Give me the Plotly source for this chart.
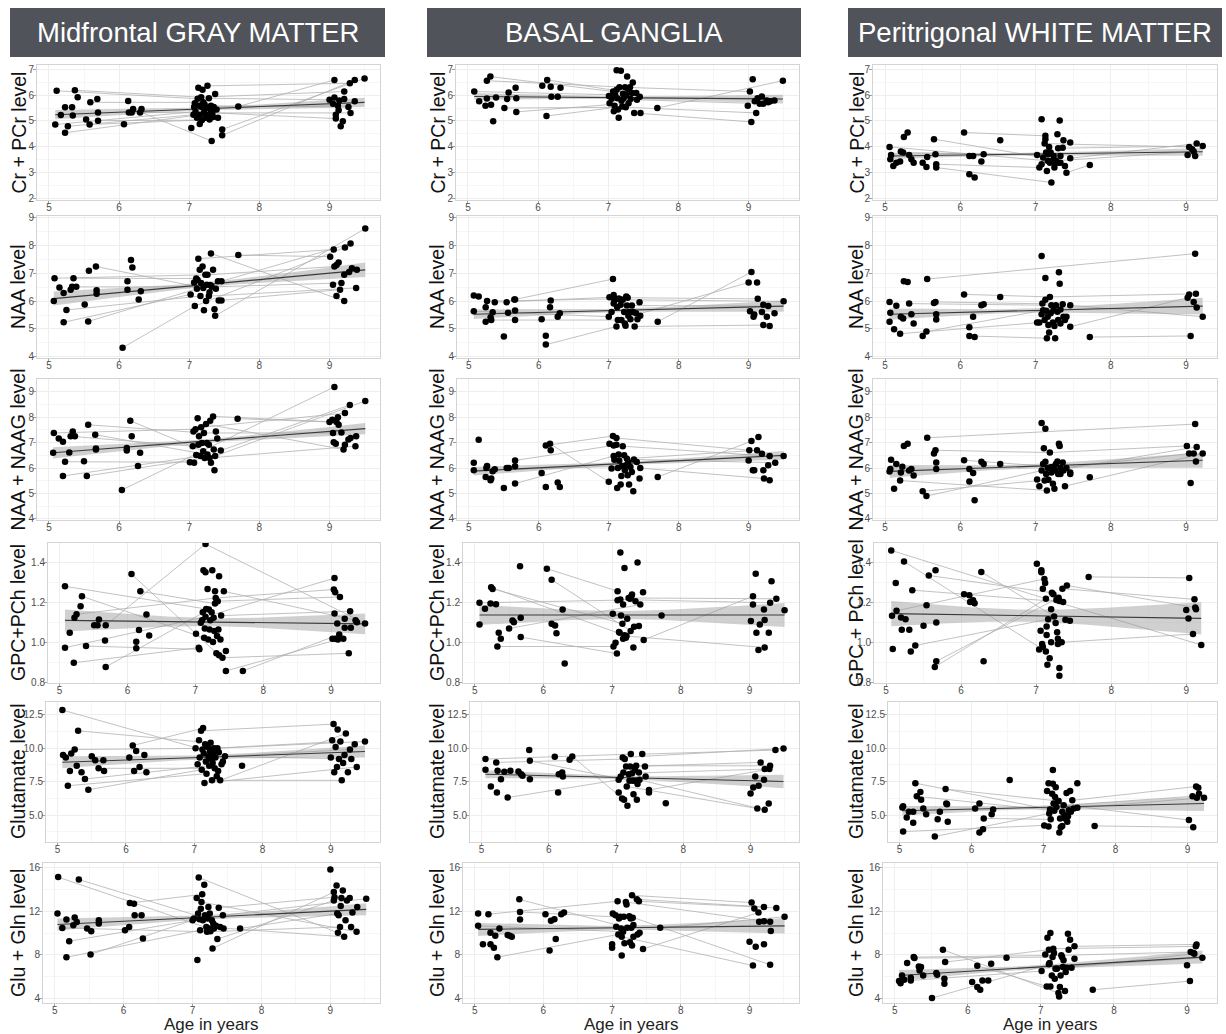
import numpy as np
import plotly.graph_objects as go

# ---------------- DATA (age in years, metabolite level) ----------------
regions = ["Midfrontal GRAY MATTER", "BASAL GANGLIA", "Peritrigonal WHITE MATTER"]
row_titles = [
    ["Cr + PCr level", "NAA level", "NAA + NAAG level", "GPC+PCh level", "Glutamate level", "Glu + Gln level"],
    ["Cr + PCr level", "NAA level", "NAA + NAAG level", "GPC+PCh level", "Glutamate level", "Glu + Gln level"],
    ["Cr + PCr level", "NAA level", "NAA + NAAG level", "GPC + PCh level", "Glutamate level", "Glu + Gln level"],
]
x_ticks = [5, 6, 7, 8, 9]
x_label = "Age in years"

# ---- Midfrontal gray matter ----
gm_cr_pts = [(5.11,6.17),(5.09,4.86),(5.17,5.23),(5.23,5.53),(5.27,4.79),(5.23,4.54),(5.33,5.53),(5.34,5.21),(5.37,6.19),(5.41,5.92),(5.53,5.05),(5.58,4.86),(5.59,5.72),(5.69,5.85),(5.70,5.33),(5.70,5.01),(6.07,4.87),(6.13,5.77),(6.14,5.33),(6.18,5.33),(6.20,5.46),(6.30,5.33),(6.32,5.46),
 (7.03,4.72),(7.06,5.24),(7.07,5.54),(7.08,5.69),(7.09,5.36),(7.11,5.12),(7.12,5.86),(7.13,6.29),(7.14,5.59),(7.15,4.88),(7.15,5.24),(7.17,5.92),(7.18,5.54),(7.18,5.03),(7.19,6.21),(7.20,5.72),(7.21,5.33),(7.22,5.64),(7.23,5.12),(7.25,5.50),(7.26,6.36),(7.27,5.24),(7.28,5.88),(7.29,5.05),(7.30,5.45),(7.31,5.59),(7.32,4.22),(7.33,5.31),(7.34,5.15),(7.35,5.54),(7.37,6.04),(7.39,5.44),(7.41,5.12),(7.47,4.67),(7.47,4.44),(7.70,5.56),
 (9.00,5.82),(9.05,5.67),(9.07,5.91),(9.07,6.59),(9.09,5.24),(9.09,5.09),(9.12,5.59),(9.13,5.41),(9.14,5.79),(9.16,4.79),(9.19,4.99),(9.21,5.85),(9.21,6.14),(9.27,5.54),(9.29,6.46),(9.30,5.31),(9.36,6.59),(9.36,5.76),(9.50,6.65)]
gm_cr_links = [[(5.11,6.17),(7.12,5.86)],[(5.09,4.86),(7.09,5.36)],[(5.27,4.79),(7.06,5.24)],[(5.23,4.54),(7.15,5.24)],[(5.37,6.19),(7.17,5.92),(9.21,6.14)],[(6.20,5.46),(7.32,4.22)],[(7.26,6.36),(9.29,6.46)],[(7.47,4.44),(9.36,6.59)],[(7.47,4.67),(9.50,6.65)],[(7.70,5.56),(9.07,6.59)],[(7.35,5.54),(9.12,5.59)],[(7.28,5.88),(9.00,5.82)],[(7.14,5.59),(9.27,5.54)],[(7.21,5.33),(9.09,5.09)],[(5.58,4.86),(7.29,5.05)],[(5.59,5.72),(7.20,5.72)],[(5.70,5.01),(7.18,5.03)],[(6.14,5.33),(7.33,5.31),(9.30,5.31)]]

gm_naa_pts = [(5.08,6.82),(5.07,6.00),(5.15,6.49),(5.21,6.29),(5.25,5.68),(5.21,5.24),(5.31,6.41),(5.33,6.51),(5.35,6.82),(5.39,6.51),(5.51,5.88),(5.56,5.27),(5.57,7.09),(5.67,7.24),(5.68,6.39),(5.68,6.26),(6.05,4.33),(6.12,6.71),(6.12,6.41),(6.17,7.47),(6.19,7.20),(6.28,6.06),(6.31,6.35),
 (7.02,6.24),(7.07,6.67),(7.08,5.82),(7.10,6.81),(7.11,6.44),(7.12,6.76),(7.13,7.52),(7.15,7.12),(7.16,6.18),(7.17,6.65),(7.19,7.24),(7.20,6.47),(7.21,5.67),(7.23,6.94),(7.24,6.00),(7.25,6.59),(7.26,6.94),(7.28,6.18),(7.29,6.32),(7.30,6.58),(7.31,7.71),(7.32,6.51),(7.34,7.12),(7.36,5.71),(7.37,5.47),(7.38,6.44),(7.41,6.71),(7.42,6.02),(7.46,6.02),(7.46,6.71),(7.70,7.65),
 (9.01,7.59),(9.05,6.59),(9.06,7.85),(9.07,7.24),(9.10,7.29),(9.10,6.18),(9.13,7.38),(9.15,6.41),(9.17,6.65),(9.21,6.00),(9.21,6.94),(9.22,7.92),(9.28,7.04),(9.30,8.06),(9.32,7.18),(9.38,6.47),(9.39,7.12),(9.51,8.60)]
gm_naa_links = [[(6.05,4.33),(7.08,5.82),(9.22,7.92)],[(5.21,5.24),(7.02,6.24)],[(5.25,5.68),(7.16,6.18)],[(5.56,5.27),(7.11,6.44)],[(5.67,7.24),(7.20,6.47)],[(5.08,6.82),(7.23,6.94)],[(7.31,7.71),(9.21,6.00)],[(7.70,7.65),(9.01,7.59)],[(7.37,5.47),(9.51,8.60)],[(7.46,6.71),(9.30,8.06)],[(7.28,6.18),(9.38,6.47)],[(7.26,6.94),(9.07,7.24)],[(7.13,7.52),(9.06,7.85)],[(7.42,6.02),(9.15,6.41)],[(5.35,6.82),(7.10,6.81)],[(5.39,6.51),(7.32,6.51),(9.17,6.65)]]

gm_naag_pts = [(5.07,7.38),(5.06,6.60),(5.14,7.16),(5.20,7.03),(5.23,6.25),(5.20,5.69),(5.29,6.61),(5.31,7.25),(5.34,7.44),(5.37,7.25),(5.50,6.27),(5.54,5.69),(5.56,7.70),(5.66,7.31),(5.67,6.77),(5.67,6.73),(6.04,5.14),(6.11,6.79),(6.11,6.69),(6.16,7.86),(6.18,7.25),(6.27,6.08),(6.30,6.60),
 (7.01,6.23),(7.05,6.86),(7.06,7.44),(7.07,6.21),(7.09,7.53),(7.10,6.51),(7.12,7.96),(7.13,6.92),(7.14,7.25),(7.16,6.47),(7.17,7.60),(7.18,6.99),(7.20,6.66),(7.21,7.38),(7.22,6.40),(7.24,7.73),(7.25,6.99),(7.26,6.53),(7.28,6.92),(7.29,6.40),(7.30,7.86),(7.31,6.21),(7.34,8.03),(7.35,6.73),(7.36,5.91),(7.37,6.47),(7.38,7.44),(7.40,7.16),(7.45,6.69),(7.69,7.94),
 (9.00,7.81),(9.04,7.90),(9.05,7.38),(9.06,7.01),(9.09,6.96),(9.07,9.19),(9.10,7.81),(9.12,8.00),(9.13,7.70),(9.17,7.40),(9.20,6.73),(9.22,8.16),(9.22,6.92),(9.27,7.12),(9.29,8.48),(9.30,7.18),(9.37,6.86),(9.38,7.25),(9.51,8.64)]
gm_naag_links = [[(6.04,5.14),(9.07,9.19)],[(5.20,5.69),(7.16,6.47)],[(5.23,6.25),(7.01,6.23)],[(5.31,7.25),(7.05,6.86)],[(5.66,7.31),(7.26,6.53)],[(6.16,7.86),(7.20,6.66)],[(7.34,8.03),(9.10,7.81)],[(7.69,7.94),(9.00,7.81)],[(7.45,6.69),(9.29,8.48)],[(7.37,6.47),(9.51,8.64)],[(7.24,7.73),(9.20,6.73)],[(7.29,6.40),(9.37,6.86)],[(7.17,7.60),(9.22,8.16)],[(5.54,5.69),(7.22,6.40)],[(5.07,7.38),(7.09,7.53)],[(5.56,7.70),(7.21,7.38),(9.05,7.38)]]

gm_gpc_pts = [(5.08,1.279),(5.08,0.973),(5.15,1.047),(5.22,1.122),(5.21,0.898),(5.25,1.140),(5.31,1.180),(5.33,1.229),(5.39,0.981),(5.51,1.085),(5.56,1.085),(5.58,1.114),(5.68,1.085),(5.67,1.009),(5.68,0.877),(6.06,1.340),(6.13,1.003),(6.13,0.970),(6.17,1.061),(6.19,1.254),(6.28,1.138),(6.32,1.034),
 (7.01,1.042),(7.05,0.973),(7.06,0.965),(7.08,1.097),(7.10,1.110),(7.11,1.150),(7.12,1.359),(7.13,1.022),(7.14,1.069),(7.15,1.127),(7.16,1.166),(7.15,1.349),(7.18,1.266),(7.19,1.014),(7.20,1.163),(7.15,1.490),(7.21,1.064),(7.22,1.110),(7.24,1.150),(7.25,1.359),(7.26,1.001),(7.27,1.122),(7.28,1.056),(7.29,1.254),(7.29,1.193),(7.30,1.221),(7.31,0.945),(7.32,1.031),(7.33,1.205),(7.34,1.064),(7.35,0.935),(7.35,1.329),(7.37,1.014),(7.38,1.133),(7.40,0.923),(7.42,1.254),(7.45,0.956),(7.45,0.857),(7.70,0.857),
 (9.02,1.018),(9.04,1.263),(9.05,1.320),(9.05,1.143),(9.06,1.249),(9.06,1.018),(9.09,1.094),(9.10,1.014),(9.12,1.039),(9.13,1.226),(9.18,1.018),(9.20,1.117),(9.20,1.072),(9.26,0.945),(9.28,1.155),(9.29,1.072),(9.36,1.110),(9.38,1.100),(9.50,1.094)]
gm_gpc_links = [[(5.08,1.279),(7.16,1.166)],[(5.33,1.229),(7.13,1.022)],[(5.08,0.973),(7.15,1.127),(9.05,1.320)],[(5.21,0.898),(7.05,0.973)],[(5.68,1.085),(7.15,1.490),(9.50,1.094)],[(5.68,0.877),(7.20,1.163)],[(7.45,0.857),(9.10,1.014)],[(7.70,0.857),(9.12,1.039)],[(6.06,1.340),(7.35,0.935)],[(7.42,1.254),(9.36,1.110)],[(7.40,0.923),(9.26,0.945)],[(5.25,1.140),(7.30,1.221),(9.04,1.263)],[(5.39,0.981),(7.06,0.965)],[(7.33,1.205),(9.13,1.226)],[(7.38,1.133),(9.28,1.155)],[(6.19,1.254),(7.29,1.193)]]

gm_glu_pts = [(5.07,12.85),(5.08,9.50),(5.12,9.30),(5.15,7.20),(5.18,8.30),(5.20,9.60),(5.25,9.90),(5.28,8.70),(5.30,11.30),(5.35,8.20),(5.40,7.70),(5.45,6.90),(5.50,9.40),(5.55,9.10),(5.60,8.50),(5.67,9.10),(5.68,8.30),(6.05,9.30),(6.10,10.20),(6.12,8.30),(6.15,9.80),(6.20,8.60),(6.27,9.50),(6.30,8.20),
 (7.02,10.0),(7.05,8.8),(7.07,10.6),(7.08,9.3),(7.10,11.3),(7.11,8.4),(7.12,9.9),(7.13,11.5),(7.14,9.6),(7.15,7.4),(7.16,10.3),(7.17,9.0),(7.18,8.1),(7.20,10.1),(7.21,9.4),(7.22,8.7),(7.23,9.8),(7.24,10.4),(7.25,9.2),(7.26,7.6),(7.27,8.9),(7.28,9.6),(7.29,10.0),(7.30,8.5),(7.31,9.3),(7.33,7.9),(7.34,10.0),(7.35,8.3),(7.36,9.7),(7.38,7.6),(7.40,8.8),(7.42,9.0),(7.45,9.4),(7.70,8.7),
 (9.00,9.3),(9.02,10.6),(9.04,11.8),(9.05,8.2),(9.07,10.1),(9.09,8.6),(9.10,11.4),(9.12,9.2),(9.14,10.5),(9.16,7.6),(9.18,8.9),(9.20,9.5),(9.22,11.1),(9.25,8.2),(9.28,9.9),(9.30,9.2),(9.35,10.3),(9.38,8.6),(9.50,10.5)]
gm_glu_links = [[(5.07,12.85),(7.12,9.9)],[(5.30,11.30),(7.24,10.4)],[(5.45,6.90),(7.11,8.4)],[(5.15,7.20),(7.18,8.1)],[(5.40,7.70),(7.22,8.7)],[(6.10,10.20),(7.13,11.5)],[(7.10,11.3),(9.04,11.8)],[(7.26,7.6),(9.16,7.6)],[(7.38,7.6),(9.22,11.1)],[(7.34,10.0),(9.50,10.5)],[(7.21,9.4),(9.30,9.2)],[(7.15,7.4),(9.38,8.6)],[(5.25,9.90),(7.29,10.0),(9.14,10.5)],[(5.60,8.50),(7.30,8.5)],[(7.45,9.4),(9.28,9.9)]]

gm_glx_pts = [(5.05,15.15),(5.04,11.79),(5.11,10.47),(5.17,11.24),(5.17,7.76),(5.21,9.25),(5.27,10.72),(5.29,11.42),(5.32,11.02),(5.35,14.93),(5.47,10.41),(5.53,10.17),(5.52,8.03),(5.64,11.18),(5.64,10.87),(6.02,10.26),(6.08,10.56),(6.09,12.76),(6.15,12.70),(6.16,11.63),(6.26,11.63),(6.28,9.50),
 (7.00,11.18),(7.02,11.33),(7.06,13.22),(7.07,7.51),(7.08,11.79),(7.09,15.11),(7.10,11.27),(7.11,10.26),(7.12,12.24),(7.13,12.85),(7.14,13.56),(7.15,11.18),(7.17,14.44),(7.18,11.63),(7.20,10.56),(7.21,10.11),(7.22,11.33),(7.23,12.40),(7.24,10.41),(7.25,11.79),(7.26,10.17),(7.28,11.18),(7.29,8.58),(7.30,10.87),(7.31,10.41),(7.34,10.66),(7.36,9.44),(7.38,12.33),(7.40,10.56),(7.44,11.63),(7.45,10.41),(7.69,10.41),
 (9.00,15.85),(9.05,13.77),(9.05,13.00),(9.06,13.30),(9.09,14.38),(9.10,11.79),(9.11,10.02),(9.12,11.63),(9.14,10.56),(9.15,12.49),(9.16,13.22),(9.18,13.92),(9.20,9.65),(9.22,11.18),(9.24,13.00),(9.28,13.22),(9.30,10.56),(9.32,11.88),(9.38,10.11),(9.39,12.40),(9.52,13.16)]
gm_glx_links = [[(5.05,15.15),(7.24,10.41)],[(5.35,14.93),(7.28,11.18)],[(5.17,7.76),(7.11,10.26)],[(5.21,9.25),(7.10,11.27)],[(5.52,8.03),(7.00,11.18)],[(7.29,8.58),(9.05,13.77)],[(7.36,9.44),(9.16,13.22)],[(7.13,12.85),(9.38,10.11)],[(7.09,15.11),(9.11,10.02)],[(7.38,12.33),(9.06,13.30)],[(7.20,10.56),(9.20,9.65)],[(7.44,11.63),(9.52,13.16)],[(6.09,12.76),(7.14,13.56)],[(5.11,10.47),(7.21,10.11),(9.14,10.56)],[(7.69,10.41),(9.10,11.79)]]

# ---- Basal ganglia ----
bg_cr_pts = [(5.09,6.14),(5.16,5.76),(5.25,5.59),(5.27,6.56),(5.27,5.87),(5.32,6.72),(5.33,5.63),(5.36,4.99),(5.40,5.91),(5.52,5.50),(5.56,5.85),(5.58,6.10),(5.68,6.29),(5.69,5.88),(5.69,5.35),(6.06,6.36),(6.13,6.59),(6.12,5.19),(6.18,6.33),(6.19,5.94),(6.28,5.94),(6.32,6.29),
 (7.01,5.97),(7.02,5.69),(7.05,5.86),(7.07,6.14),(7.08,5.37),(7.09,5.59),(7.10,6.01),(7.12,6.21),(7.12,6.97),(7.13,5.88),(7.14,5.44),(7.15,5.12),(7.16,6.31),(7.18,6.95),(7.19,5.78),(7.20,5.56),(7.21,6.05),(7.22,5.88),(7.24,6.31),(7.25,5.53),(7.26,6.01),(7.27,6.72),(7.28,6.23),(7.29,5.69),(7.31,6.31),(7.32,5.85),(7.34,6.08),(7.35,6.49),(7.37,5.31),(7.40,6.08),(7.41,5.82),(7.45,5.94),(7.46,5.31),(7.70,5.50),
 (8.99,5.59),(9.02,6.14),(9.04,4.96),(9.06,6.62),(9.09,5.76),(9.11,5.31),(9.13,5.88),(9.16,5.67),(9.19,5.95),(9.21,5.67),(9.26,5.79),(9.28,5.72),(9.31,5.76),(9.37,5.79),(9.49,6.56)]
bg_cr_links = [[(5.32,6.72),(7.07,6.14)],[(6.13,6.59),(7.34,6.08)],[(6.12,5.19),(7.20,5.56)],[(5.69,5.35),(7.29,5.69)],[(7.70,5.50),(9.49,6.56)],[(7.37,5.31),(9.04,4.96)],[(7.16,6.31),(9.02,6.14)],[(5.09,6.14),(7.10,6.01)],[(5.27,6.56),(7.24,6.31)],[(7.22,5.88),(9.13,5.88)],[(7.41,5.82),(9.21,5.67)],[(5.52,5.50),(7.25,5.53),(9.11,5.31)]]

bg_naa_pts = [(5.07,6.20),(5.07,5.64),(5.14,6.16),(5.24,5.78),(5.24,5.26),(5.26,6.00),(5.31,5.42),(5.32,5.32),(5.34,5.60),(5.37,5.96),(5.50,4.73),(5.54,5.96),(5.56,5.58),(5.65,6.06),(5.66,5.66),(5.66,5.32),(6.04,5.35),(6.10,4.76),(6.10,4.44),(6.16,5.78),(6.17,6.02),(6.27,5.44),(6.30,5.56),
 (7.00,5.44),(7.01,6.14),(7.04,5.61),(7.06,6.79),(7.07,6.22),(7.07,5.91),(7.08,6.02),(7.10,6.08),(7.11,5.09),(7.12,5.78),(7.13,5.32),(7.14,6.08),(7.15,6.08),(7.17,5.87),(7.18,5.32),(7.20,6.05),(7.22,5.61),(7.23,5.20),(7.24,5.12),(7.25,6.16),(7.26,5.84),(7.27,6.12),(7.28,5.47),(7.29,5.61),(7.31,5.35),(7.33,5.84),(7.35,5.61),(7.37,5.09),(7.39,5.56),(7.41,5.35),(7.44,5.96),(7.45,5.47),(7.70,5.26),
 (9.00,6.67),(9.04,7.04),(9.02,5.64),(9.07,5.44),(9.08,5.52),(9.12,6.67),(9.13,6.08),(9.19,5.61),(9.21,5.87),(9.21,5.14),(9.26,5.44),(9.28,5.82),(9.30,5.11),(9.37,5.56),(9.50,5.99)]
bg_naa_links = [[(6.10,4.44),(7.11,5.09)],[(5.66,6.06),(7.06,6.79)],[(7.70,5.26),(9.04,7.04)],[(7.13,5.32),(9.00,6.67)],[(5.07,5.64),(7.00,5.44)],[(5.37,5.96),(7.25,6.16)],[(7.37,5.09),(9.21,5.14)],[(7.27,6.12),(9.13,6.08)],[(7.20,6.05),(9.50,5.99)],[(5.32,5.32),(7.18,5.32)],[(5.26,6.00),(7.10,6.08)],[(7.33,5.84),(9.28,5.82)]]

bg_naag_pts = [(5.07,6.21),(5.07,5.91),(5.14,7.11),(5.24,5.65),(5.25,6.00),(5.26,6.08),(5.31,5.52),(5.32,5.59),(5.34,5.88),(5.37,5.95),(5.50,5.22),(5.54,6.00),(5.57,6.00),(5.66,6.07),(5.66,6.30),(5.66,5.39),(6.04,5.81),(6.10,6.89),(6.10,5.26),(6.16,6.96),(6.17,6.70),(6.27,5.43),(6.30,5.26),
 (7.00,5.46),(7.01,6.96),(7.04,5.98),(7.06,7.26),(7.07,6.47),(7.07,6.89),(7.08,6.33),(7.11,7.18),(7.11,6.92),(7.12,5.22),(7.13,6.00),(7.14,6.53),(7.15,6.30),(7.17,5.35),(7.18,5.69),(7.19,6.07),(7.20,6.86),(7.22,6.50),(7.23,5.91),(7.25,6.11),(7.26,6.37),(7.27,5.72),(7.28,6.24),(7.29,5.35),(7.31,6.04),(7.33,5.85),(7.35,5.09),(7.36,6.34),(7.40,6.24),(7.44,5.59),(7.45,6.00),(7.70,5.65),
 (9.00,6.30),(9.01,6.70),(9.04,7.06),(9.06,5.91),(9.08,5.91),(9.12,6.70),(9.14,7.22),(9.19,6.56),(9.21,5.91),(9.22,5.59),(9.28,6.11),(9.30,6.47),(9.30,5.52),(9.38,6.21),(9.50,6.47)]
bg_naag_links = [[(6.16,6.96),(7.00,5.46)],[(5.66,5.39),(7.14,6.53)],[(6.10,6.89),(7.06,7.26)],[(7.70,5.65),(9.04,7.06)],[(7.11,7.18),(9.01,6.70)],[(7.45,6.00),(9.22,5.59)],[(7.20,6.86),(9.30,6.47)],[(5.07,5.91),(7.19,6.07)],[(7.26,6.37),(9.12,6.70)],[(5.66,6.30),(7.07,6.89)],[(7.36,6.34),(9.38,6.21)]]

bg_gpc_pts = [(5.07,1.197),(5.07,1.089),(5.15,1.167),(5.23,1.193),(5.24,1.274),(5.26,1.266),(5.31,1.190),(5.33,0.979),(5.35,1.048),(5.38,1.018),(5.50,1.069),(5.55,1.109),(5.57,1.100),(5.67,1.122),(5.67,1.026),(5.66,1.379),(6.05,1.367),(6.12,1.312),(6.12,1.093),(6.17,1.084),(6.19,1.045),(6.28,1.164),(6.31,0.894),
 (7.01,1.142),(7.02,0.979),(7.05,0.998),(7.07,0.944),(7.08,1.255),(7.08,1.210),(7.10,1.051),(7.11,1.048),(7.12,1.213),(7.13,1.134),(7.15,1.093),(7.16,1.188),(7.16,1.018),(7.18,1.370),(7.18,1.035),(7.20,1.023),(7.21,1.031),(7.22,1.117),(7.12,1.448),(7.24,1.221),(7.26,1.217),(7.27,1.056),(7.28,1.230),(7.29,1.238),(7.31,0.974),(7.32,1.078),(7.34,1.205),(7.37,1.398),(7.39,1.081),(7.41,1.188),(7.45,1.250),(7.46,1.012),(7.72,1.134),
 (9.02,1.106),(9.05,1.230),(9.05,1.188),(9.09,1.342),(9.10,1.048),(9.13,0.962),(9.15,1.089),(9.21,1.164),(9.22,1.111),(9.22,0.974),(9.28,1.048),(9.30,1.197),(9.32,1.304),(9.39,1.217),(9.51,1.160)]
bg_gpc_links = [[(5.24,1.274),(7.18,1.035)],[(6.05,1.367),(7.08,1.255)],[(6.12,1.312),(7.27,1.056)],[(5.33,0.979),(7.02,0.979)],[(5.67,1.026),(7.07,0.944)],[(5.07,1.197),(7.08,1.210)],[(5.50,1.069),(7.41,1.188)],[(7.46,1.012),(9.05,1.230)],[(7.21,1.031),(9.22,0.974)],[(7.12,1.213),(9.30,1.197)],[(7.24,1.221),(9.39,1.217)],[(5.26,1.266),(7.15,1.093)]]

bg_glu_pts = [(5.06,9.19),(5.06,8.39),(5.14,7.14),(5.22,8.94),(5.23,6.69),(5.24,8.31),(5.29,7.69),(5.34,8.24),(5.39,6.32),(5.43,8.31),(5.55,8.26),(5.59,8.06),(5.61,7.94),(5.71,9.86),(5.72,9.06),(5.72,7.69),(6.09,9.36),(6.14,6.69),(6.15,8.06),(6.20,8.19),(6.21,7.89),(6.31,9.14),(6.35,9.39),
 (7.04,6.69),(7.04,7.64),(7.07,7.89),(7.09,6.25),(7.10,9.31),(7.11,8.19),(7.12,6.15),(7.13,9.19),(7.15,8.64),(7.16,7.14),(7.17,5.70),(7.19,8.06),(7.20,7.57),(7.21,8.64),(7.22,9.56),(7.24,8.14),(7.25,7.57),(7.26,6.57),(7.28,8.39),(7.29,7.57),(7.30,8.69),(7.31,6.15),(7.32,7.32),(7.34,8.19),(7.35,7.64),(7.39,9.56),(7.43,8.64),(7.44,7.89),(7.49,6.89),(7.49,6.69),(7.74,5.90),
 (9.00,6.62),(9.04,7.07),(9.07,7.89),(9.10,5.50),(9.12,7.19),(9.15,8.94),(9.20,7.64),(9.21,8.44),(9.21,5.40),(9.27,5.87),(9.28,8.44),(9.29,8.69),(9.37,9.86),(9.49,9.98)]
bg_glu_links = [[(5.06,9.19),(7.22,9.56)],[(5.39,6.32),(7.04,7.64)],[(5.72,9.06),(7.20,7.57)],[(6.35,9.39),(7.12,6.15)],[(7.10,9.31),(9.49,9.98)],[(7.16,7.14),(9.10,5.50)],[(7.35,7.64),(9.21,5.40)],[(7.39,9.56),(9.37,9.86)],[(7.21,8.64),(9.15,8.94)],[(7.49,6.89),(9.28,8.44)],[(5.22,8.94),(7.13,9.19)],[(7.24,8.14),(9.21,8.44)],[(7.30,8.69),(9.29,8.69)]]

bg_glx_pts = [(5.05,11.79),(5.05,10.66),(5.12,8.96),(5.20,11.73),(5.23,10.02),(5.23,8.96),(5.28,8.65),(5.30,9.75),(5.33,7.77),(5.36,10.42),(5.48,9.81),(5.51,9.75),(5.54,9.66),(5.65,13.10),(5.66,11.94),(5.66,11.24),(6.03,11.73),(6.09,8.38),(6.11,11.12),(6.16,11.27),(6.18,9.45),(6.26,11.73),(6.30,11.88),
 (7.00,8.96),(7.00,8.65),(7.01,11.79),(7.05,11.64),(7.06,10.57),(7.08,12.92),(7.09,9.87),(7.10,11.33),(7.12,11.49),(7.13,10.42),(7.14,9.66),(7.14,7.92),(7.16,10.12),(7.17,11.49),(7.18,9.05),(7.20,12.86),(7.21,12.62),(7.22,10.48),(7.25,11.55),(7.26,9.14),(7.27,11.33),(7.28,10.48),(7.29,13.47),(7.29,8.84),(7.30,11.40),(7.31,9.66),(7.31,10.73),(7.36,13.10),(7.37,9.87),(7.39,12.92),(7.40,10.02),(7.45,8.53),(7.70,10.48),
 (9.00,9.20),(9.03,12.80),(9.05,7.00),(9.07,12.25),(9.09,8.74),(9.13,11.88),(9.14,11.03),(9.21,8.96),(9.21,11.09),(9.21,12.40),(9.30,11.03),(9.31,10.18),(9.30,7.07),(9.39,12.31),(9.51,11.49)]
bg_glx_links = [[(5.33,7.77),(7.09,9.87)],[(5.20,11.73),(7.08,12.92)],[(5.66,11.94),(7.30,11.40)],[(5.65,13.10),(7.22,10.48)],[(7.29,13.47),(9.03,12.80)],[(7.36,13.10),(9.21,12.40)],[(7.39,12.92),(9.39,12.31)],[(7.14,9.66),(9.05,7.00)],[(7.25,11.55),(9.30,7.07)],[(7.45,8.53),(9.13,11.88)],[(7.70,10.48),(9.51,11.49)],[(7.20,12.86),(9.21,11.09)],[(5.05,10.66),(7.16,10.12)]]

# ---- Peritrigonal white matter ----
wm_cr_pts = [(5.06,3.99),(5.08,3.68),(5.07,3.51),(5.11,3.25),(5.15,3.38),(5.20,3.42),(5.21,3.81),(5.25,4.38),(5.24,3.77),(5.30,4.55),(5.32,3.68),(5.35,3.51),(5.38,3.38),(5.50,3.38),(5.55,3.21),(5.56,3.60),(5.65,4.29),(5.67,3.71),(5.68,3.32),(5.68,3.19),(6.05,4.55),(6.12,3.64),(6.12,2.93),(6.17,3.64),(6.19,2.80),(6.28,3.42),(6.31,3.71),(6.53,4.25),
 (7.02,3.68),(7.05,3.19),(7.08,5.06),(7.08,3.32),(7.10,3.58),(7.12,4.12),(7.13,4.42),(7.13,4.29),(7.14,3.77),(7.15,3.06),(7.16,3.45),(7.17,3.71),(7.18,3.99),(7.19,3.38),(7.20,3.77),(7.21,2.61),(7.23,3.47),(7.24,3.64),(7.25,3.19),(7.26,3.38),(7.27,3.45),(7.29,4.48),(7.30,3.38),(7.30,3.94),(7.32,5.02),(7.33,3.38),(7.33,3.64),(7.36,3.96),(7.37,4.25),(7.39,3.25),(7.41,2.99),(7.46,4.16),(7.46,3.55),(7.72,3.29),
 (9.02,3.68),(9.04,3.99),(9.08,3.90),(9.10,3.81),(9.12,3.64),(9.14,4.12),(9.22,4.03)]
wm_cr_links = [[(6.05,4.55),(7.13,4.42)],[(5.65,4.29),(7.10,3.58)],[(5.68,3.19),(7.21,2.61)],[(5.06,3.99),(7.16,3.45)],[(5.68,3.32),(7.05,3.19)],[(7.41,2.99),(7.72,3.29)],[(7.30,3.94),(9.22,4.03)],[(7.46,3.55),(9.14,4.12)],[(7.12,4.12),(9.04,3.99)],[(5.24,3.77),(7.02,3.68)],[(7.27,3.45),(9.10,3.81)]]

wm_naa_pts = [(5.06,5.97),(5.07,5.58),(5.06,5.26),(5.12,4.99),(5.15,5.83),(5.20,4.83),(5.21,5.44),(5.24,5.38),(5.25,6.71),(5.30,6.68),(5.32,5.91),(5.35,5.53),(5.38,5.20),(5.50,4.75),(5.55,4.91),(5.56,6.79),(5.65,5.93),(5.67,5.97),(5.68,5.53),(5.68,5.34),(6.05,6.24),(6.12,5.06),(6.12,4.75),(6.17,5.44),(6.19,4.71),(6.28,5.85),(6.31,5.89),(6.53,6.15),
 (7.02,5.23),(7.05,5.23),(7.08,7.62),(7.08,5.53),(7.09,5.91),(7.10,5.67),(7.12,5.32),(7.13,6.83),(7.13,6.05),(7.14,5.65),(7.15,4.67),(7.16,5.44),(7.17,5.14),(7.18,4.87),(7.19,6.15),(7.20,5.56),(7.21,5.85),(7.23,5.23),(7.24,5.67),(7.25,5.11),(7.26,4.67),(7.27,5.85),(7.29,5.62),(7.30,5.32),(7.31,7.03),(7.32,6.62),(7.33,5.70),(7.33,5.20),(7.36,5.89),(7.37,5.44),(7.39,5.32),(7.41,5.44),(7.46,5.08),(7.46,5.85),(7.72,4.71),
 (9.02,6.12),(9.04,6.24),(9.06,4.75),(9.10,5.97),(9.12,7.70),(9.13,6.26),(9.14,5.77),(9.22,5.44)]
wm_naa_links = [[(5.56,6.79),(9.12,7.70)],[(6.05,6.24),(7.19,6.15),(9.13,6.26)],[(5.55,4.91),(7.10,5.67)],[(5.20,4.83),(7.05,5.23)],[(6.12,4.75),(7.15,4.67)],[(7.72,4.71),(9.06,4.75)],[(7.46,5.08),(9.02,6.12)],[(7.46,5.85),(9.22,5.44)],[(5.67,5.97),(7.36,5.89)],[(5.32,5.91),(7.21,5.85)]]

wm_naag_pts = [(5.06,5.87),(5.08,6.33),(5.07,5.96),(5.12,5.19),(5.15,6.16),(5.20,5.51),(5.21,5.83),(5.23,6.05),(5.25,6.87),(5.30,6.96),(5.32,5.90),(5.35,5.96),(5.38,5.71),(5.50,5.09),(5.55,4.90),(5.56,7.19),(5.65,6.57),(5.67,6.70),(5.68,6.22),(5.68,5.96),(6.05,6.31),(6.12,5.96),(6.12,5.47),(6.17,5.81),(6.19,4.74),(6.28,6.25),(6.31,6.16),(6.53,6.16),
 (7.02,5.55),(7.05,5.29),(7.08,7.77),(7.08,5.90),(7.10,6.16),(7.11,6.78),(7.12,5.51),(7.13,7.55),(7.13,6.25),(7.14,5.77),(7.15,5.12),(7.16,6.00),(7.17,5.54),(7.19,6.61),(7.20,6.03),(7.21,5.83),(7.23,5.38),(7.24,6.05),(7.25,5.19),(7.26,5.90),(7.27,6.16),(7.29,6.26),(7.30,5.77),(7.31,6.96),(7.32,6.87),(7.33,6.00),(7.33,5.77),(7.36,6.22),(7.37,5.90),(7.39,5.29),(7.41,6.00),(7.46,5.83),(7.46,5.77),(7.72,5.64),
 (9.01,6.87),(9.04,6.57),(9.06,5.41),(9.10,6.57),(9.12,7.73),(9.13,6.26),(9.14,6.83),(9.22,6.57)]
wm_naag_links = [[(5.56,7.19),(9.12,7.73)],[(5.55,4.90),(7.08,5.90)],[(5.20,5.51),(7.15,5.12)],[(5.67,6.70),(7.19,6.61),(9.01,6.87)],[(6.05,6.31),(7.24,6.05)],[(7.39,5.29),(9.22,6.57)],[(7.26,5.90),(9.14,6.83)],[(5.50,5.09),(7.17,5.54)],[(7.33,6.00),(9.04,6.57)]]

wm_gpc_pts = [(5.07,1.458),(5.08,1.132),(5.09,0.967),(5.13,1.296),(5.14,1.157),(5.20,1.124),(5.21,1.063),(5.24,1.403),(5.26,1.115),(5.31,1.063),(5.33,0.954),(5.35,1.260),(5.39,0.984),(5.50,1.083),(5.54,1.185),(5.57,1.333),(5.65,0.877),(5.66,1.359),(5.67,1.099),(5.67,0.905),(6.04,1.239),(6.11,1.234),(6.12,1.201),(6.16,1.209),(6.18,1.194),(6.27,1.351),(6.30,0.905),
 (7.01,1.392),(7.04,0.964),(7.06,1.058),(7.07,1.349),(7.07,1.359),(7.08,0.992),(7.09,1.267),(7.09,0.976),(7.11,1.316),(7.12,1.296),(7.13,0.954),(7.13,1.217),(7.14,1.079),(7.14,1.036),(7.15,0.888),(7.16,1.115),(7.18,0.921),(7.20,1.165),(7.20,1.000),(7.21,1.247),(7.23,1.239),(7.24,1.129),(7.26,1.096),(7.27,1.211),(7.28,1.050),(7.29,1.017),(7.29,0.992),(7.30,1.222),(7.31,0.872),(7.31,0.833),(7.31,1.206),(7.34,1.000),(7.35,1.267),(7.36,1.201),(7.39,1.112),(7.41,1.283),(7.45,1.107),(7.70,1.326),
 (9.00,1.161),(9.03,1.119),(9.04,1.321),(9.09,1.041),(9.11,1.214),(9.12,1.173),(9.13,1.165),(9.20,0.987)]
wm_gpc_links = [[(5.07,1.458),(7.13,1.217),(9.20,0.987)],[(5.24,1.403),(7.13,0.954)],[(5.57,1.333),(7.21,1.247)],[(5.35,1.260),(7.36,1.201)],[(5.67,0.905),(7.30,1.222)],[(5.65,0.877),(7.23,1.239)],[(5.39,0.984),(7.16,1.115)],[(6.27,1.351),(7.24,1.129)],[(7.70,1.326),(9.04,1.321)],[(7.35,1.267),(9.11,1.214)],[(7.34,1.000),(9.09,1.041)],[(7.41,1.283),(9.12,1.173)],[(5.14,1.157),(7.11,1.316)]]

wm_glu_pts = [(5.04,5.57),(5.05,5.67),(5.05,3.78),(5.10,4.83),(5.13,5.25),(5.19,5.25),(5.19,4.44),(5.22,7.39),(5.24,6.41),(5.29,6.73),(5.30,6.16),(5.33,5.50),(5.37,5.08),(5.49,3.41),(5.53,4.69),(5.56,5.25),(5.64,6.95),(5.65,5.87),(5.66,5.82),(5.67,4.51),(6.05,5.50),(6.11,5.87),(6.11,3.70),(6.16,3.95),(6.17,4.76),(6.28,5.08),(6.30,5.42),(6.53,7.63),
 (7.01,4.24),(7.05,6.80),(7.07,7.39),(7.07,4.15),(7.08,5.13),(7.09,5.42),(7.10,4.69),(7.12,6.60),(7.13,8.37),(7.13,7.34),(7.14,5.87),(7.15,5.33),(7.16,6.36),(7.17,7.09),(7.18,5.62),(7.20,6.06),(7.21,6.06),(7.22,3.70),(7.23,4.76),(7.24,4.10),(7.26,4.20),(7.26,5.25),(7.28,5.74),(7.29,5.01),(7.30,4.76),(7.32,6.65),(7.33,4.51),(7.34,4.93),(7.35,5.37),(7.37,6.80),(7.38,5.25),(7.40,6.11),(7.42,5.50),(7.47,7.39),(7.47,5.55),(7.71,4.20),
 (9.02,4.64),(9.07,6.41),(9.08,4.10),(9.12,7.14),(9.13,6.31),(9.15,7.05),(9.16,6.60),(9.23,6.31)]
wm_glu_links = [[(5.22,7.39),(7.26,5.25)],[(5.64,6.95),(7.21,6.06)],[(5.49,3.41),(7.08,5.13)],[(5.05,3.78),(7.01,4.24)],[(6.17,4.76),(7.10,4.69)],[(7.71,4.20),(9.08,4.10)],[(7.47,5.55),(9.23,6.31)],[(7.40,6.11),(9.12,7.14)],[(7.28,5.74),(9.07,6.41)],[(7.14,5.87),(9.02,4.64)],[(5.24,6.41),(7.15,5.33)]]

wm_glx_pts = [(5.06,5.57),(5.08,5.38),(5.10,6.09),(5.13,5.69),(5.17,7.23),(5.22,5.88),(5.22,5.63),(5.26,7.78),(5.27,7.69),(5.33,6.92),(5.34,6.55),(5.36,6.86),(5.39,6.09),(5.51,4.00),(5.57,6.31),(5.58,6.15),(5.66,8.46),(5.68,5.78),(5.68,5.32),(5.69,7.32),(6.06,5.48),(6.13,6.98),(6.13,5.02),(6.17,4.77),(6.20,5.63),(6.28,5.63),(6.32,7.17),(6.53,7.72),
 (7.01,6.49),(7.06,8.03),(7.08,5.08),(7.09,9.57),(7.11,7.11),(7.11,8.46),(7.12,7.23),(7.13,10.00),(7.13,5.08),(7.15,6.09),(7.16,7.78),(7.17,8.55),(7.18,8.15),(7.19,5.78),(7.20,6.71),(7.22,6.71),(7.24,4.46),(7.25,4.15),(7.26,5.02),(7.27,6.09),(7.28,7.94),(7.29,7.78),(7.30,6.86),(7.31,7.48),(7.33,4.65),(7.34,6.40),(7.35,6.80),(7.37,9.94),(7.38,8.46),(7.40,9.38),(7.42,6.80),(7.46,7.63),(7.46,8.77),(7.71,4.77),
 (9.00,7.02),(9.04,5.57),(9.05,8.25),(9.09,8.15),(9.10,8.09),(9.12,8.77),(9.13,8.95),(9.21,7.72)]
wm_glx_links = [[(5.66,8.46),(7.24,4.46)],[(5.51,4.00),(7.11,7.11)],[(5.27,7.69),(7.16,7.78)],[(5.69,7.32),(7.11,8.46)],[(5.22,5.63),(7.01,6.49)],[(6.13,6.98),(7.08,5.08)],[(7.71,4.77),(9.04,5.57)],[(7.46,8.77),(9.13,8.95)],[(7.35,6.80),(9.10,8.09)],[(7.17,8.55),(9.12,8.77)],[(7.30,6.86),(9.21,7.72)],[(5.26,7.78),(7.28,7.94),(9.05,8.25)]]

# Fitted trend (value at youngest / oldest age) and confidence half-widths
# order: GM (6 rows), BG (6 rows), WM (6 rows)
fit_start  = [5.24, 6.09, 6.60, 1.109, 8.95, 10.78,  5.95, 5.53, 5.88, 1.136, 8.06, 10.33,  3.64, 5.53, 5.87, 1.143, 5.33, 6.09]
fit_end    = [5.72, 7.12, 7.55, 1.092, 9.75, 12.18,  5.85, 5.82, 6.50, 1.136, 7.52, 10.66,  3.80, 5.82, 6.31, 1.119, 5.87, 7.78]
band_start = [0.18, 0.25, 0.22, 0.055, 0.45, 0.55,   0.13, 0.17, 0.17, 0.050, 0.30, 0.60,   0.12, 0.20, 0.25, 0.063, 0.35, 0.50]
band_end   = [0.18, 0.26, 0.22, 0.052, 0.45, 0.55,   0.17, 0.20, 0.17, 0.060, 0.50, 0.70,   0.15, 0.30, 0.30, 0.080, 0.55, 0.60]
band_mid   = [0.06, 0.08, 0.07, 0.020, 0.15, 0.20,   0.05, 0.06, 0.06, 0.020, 0.12, 0.20,   0.05, 0.07, 0.08, 0.030, 0.12, 0.17]

points = [gm_cr_pts, gm_naa_pts, gm_naag_pts, gm_gpc_pts, gm_glu_pts, gm_glx_pts,
          bg_cr_pts, bg_naa_pts, bg_naag_pts, bg_gpc_pts, bg_glu_pts, bg_glx_pts,
          wm_cr_pts, wm_naa_pts, wm_naag_pts, wm_gpc_pts, wm_glu_pts, wm_glx_pts]
links = [gm_cr_links, gm_naa_links, gm_naag_links, gm_gpc_links, gm_glu_links, gm_glx_links,
         bg_cr_links, bg_naa_links, bg_naag_links, bg_gpc_links, bg_glu_links, bg_glx_links,
         wm_cr_links, wm_naa_links, wm_naag_links, wm_gpc_links, wm_glu_links, wm_glx_links]

# ---------------- LAYOUT GEOMETRY ----------------
W, H = 1226, 1034
col_right = [380, 799, 1217]
col_left = [[37, 37, 37, 48, 46, 43], [456, 457, 457, 463, 470, 463], [873, 873, 873, 874, 888, 883]]
row_tb = [(65, 200), (216, 358), (379, 520), (543, 683), (702, 842), (863, 1003)]
x_ranges = [[4.83, 9.72], [4.83, 9.72], [4.84, 9.41]]
y_ranges = [[1.93, 7.17], [3.96, 9.05], [3.96, 9.5], [0.797, 1.495], [3.0, 13.45], [3.55, 16.45]]
y_tick0 = [2, 4, 4, 0.8, 5, 4]
y_dtick = [1, 1, 1, 0.2, 2.5, 4]
y_fmt = ["d", "d", "d", ".1f", ".1f", "d"]
header_x = [(10, 385), (427, 801), (848, 1222)]
ytitle_x = [18, 437, 856]

FONT = "Liberation Sans, Arial, sans-serif"
fig = go.Figure()
layout = dict(template="none", width=W, height=H, autosize=False,
              margin=dict(l=0, r=0, t=0, b=0, pad=0, autoexpand=False),
              paper_bgcolor="white", plot_bgcolor="white", showlegend=False,
              font=dict(family=FONT, color="#222222"), shapes=[], annotations=[])

def px2x(p):
    return p / W

def px2y(p):
    return 1 - p / H

for c in range(3):
    for r in range(6):
        k = c * 6 + r
        idx = k + 1
        xs = "x" if idx == 1 else f"x{idx}"
        ys = "y" if idx == 1 else f"y{idx}"
        pts = points[k]
        ages = np.array([p[0] for p in pts])

        # subject connecting lines
        lx, ly = [], []
        for traj in links[k]:
            traj = sorted(traj)
            for a, v in traj:
                lx.append(a)
                ly.append(v)
            lx.append(None)
            ly.append(None)
        fig.add_trace(go.Scatter(x=lx, y=ly, mode="lines", xaxis=xs, yaxis=ys,
                                 line=dict(color="rgba(175,175,175,0.85)", width=0.9),
                                 hoverinfo="skip"))

        # trend and confidence band
        xmin, xmax = ages.min(), ages.max()
        xc = ages.mean()
        gx = np.linspace(xmin, xmax, 80)
        fy = fit_start[k] + (fit_end[k] - fit_start[k]) * (gx - xmin) / (xmax - xmin)
        hw = np.where(
            gx < xc,
            np.sqrt(band_mid[k] ** 2 + (band_start[k] ** 2 - band_mid[k] ** 2) * ((xc - gx) / (xc - xmin)) ** 2),
            np.sqrt(band_mid[k] ** 2 + (band_end[k] ** 2 - band_mid[k] ** 2) * ((gx - xc) / (xmax - xc)) ** 2),
        )
        bx = np.concatenate([gx, gx[::-1]])
        by = np.concatenate([fy + hw, (fy - hw)[::-1]])
        fig.add_trace(go.Scatter(x=bx, y=by, mode="lines", fill="toself", xaxis=xs, yaxis=ys,
                                 fillcolor="rgba(150,150,150,0.45)", line=dict(width=0),
                                 hoverinfo="skip"))
        fig.add_trace(go.Scatter(x=gx, y=fy, mode="lines", xaxis=xs, yaxis=ys,
                                 line=dict(color="#3a3a3a", width=1.1), hoverinfo="skip"))

        # all measurements (including those on connecting lines)
        allp = sorted(set([(round(a, 3), round(v, 3)) for a, v in pts] +
                          [(round(a, 3), round(v, 3)) for t in links[k] for a, v in t]))
        fig.add_trace(go.Scatter(x=[p[0] for p in allp], y=[p[1] for p in allp], mode="markers",
                                 xaxis=xs, yaxis=ys,
                                 marker=dict(color="black", size=6.5, line=dict(width=0))))

        left = col_left[c][r]
        top, bot = row_tb[r]
        axis_common = dict(showline=True, mirror=True, linecolor="#d4d4d4", linewidth=1,
                           ticks="outside", ticklen=3, tickcolor="#a0a0a0", tickwidth=1,
                           tickfont=dict(family=FONT, size=10, color="#4d4d4d"),
                           showgrid=True, gridcolor="#eeeeee", gridwidth=1, zeroline=False,
                           automargin=False, fixedrange=True)
        layout["xaxis" if idx == 1 else f"xaxis{idx}"] = dict(
            domain=[px2x(left), px2x(col_right[c])], range=x_ranges[c], anchor=ys,
            tickmode="array", tickvals=x_ticks, ticktext=[str(t) for t in x_ticks],
            ticklabelstandoff=-5,
            minor=dict(showgrid=True, gridcolor="#f6f6f6", tickvals=[5.5, 6.5, 7.5, 8.5, 9.5]),
            **axis_common)
        layout["yaxis" if idx == 1 else f"yaxis{idx}"] = dict(
            domain=[px2y(bot), px2y(top)], range=y_ranges[r], anchor=xs,
            tick0=y_tick0[r], dtick=y_dtick[r], tickformat=y_fmt[r],
            ticklabelstandoff=-3,
            minor=dict(showgrid=True, gridcolor="#f6f6f6", dtick=y_dtick[r] / 2),
            **axis_common)
        # y-axis title
        layout["annotations"].append(dict(
            x=px2x(ytitle_x[c]), y=px2y((top + bot) / 2), xref="paper", yref="paper",
            text=row_titles[c][r], textangle=-90, showarrow=False, xanchor="center", yanchor="middle",
            font=dict(family=FONT, size=19.5, color="#111111")))

# headers
for c in range(3):
    x0, x1 = header_x[c]
    layout["shapes"].append(dict(type="rect", xref="paper", yref="paper",
                                 x0=px2x(x0), x1=px2x(x1), y0=px2y(57), y1=px2y(8),
                                 fillcolor="#50535a", line=dict(width=0), layer="below"))
    layout["annotations"].append(dict(x=px2x((x0 + x1) / 2), y=px2y(33), xref="paper", yref="paper",
                                      text=regions[c], showarrow=False, xanchor="center", yanchor="middle",
                                      font=dict(family=FONT, size=27.5, color="white")))
    # x-axis label
    layout["annotations"].append(dict(x=px2x((col_left[c][5] + col_right[c]) / 2), y=px2y(1035),
                                      xref="paper", yref="paper", text=x_label, showarrow=False,
                                      xanchor="center", yanchor="bottom", borderpad=0,
                                      font=dict(family=FONT, size=17, color="#222222")))

fig.update_layout(**layout)
post = ("var d=document.getElementById('{plot_id}');"
        "d.style.position='fixed';d.style.top='0px';d.style.left='0px';"
        "document.documentElement.style.margin='0px';document.documentElement.style.overflow='hidden';"
        "document.body.style.margin='0px';document.body.style.padding='0px';"
        "document.body.style.overflow='hidden';document.body.style.height='1034px';")
fig.write_html("out.html", config={"displayModeBar": False}, post_script=post)
